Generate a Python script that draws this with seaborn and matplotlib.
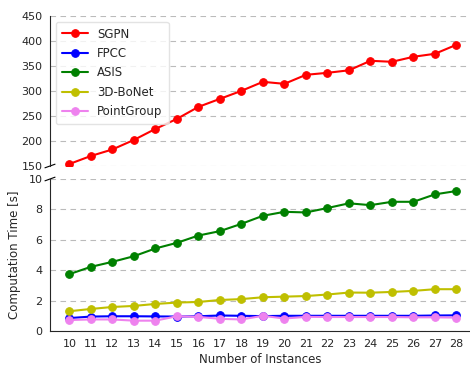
import numpy as np
import pandas as pd
import matplotlib
matplotlib.use("Agg")
import matplotlib.pyplot as plt
import seaborn as sns

instances = list(range(10, 29))
sgpn = [154, 170, 183, 202, 224, 244, 268, 284, 300, 318, 314, 332, 336, 341, 360, 358, 368, 374, 392]
fpcc = [0.85, 0.95, 0.97, 0.97, 0.96, 0.95, 0.97, 1.02, 1.0, 0.98, 1.0, 1.0, 1.0, 1.0, 1.0, 1.0, 1.0, 1.02, 1.03]
asis = [3.74, 4.22, 4.55, 4.92, 5.43, 5.8, 6.28, 6.57, 7.05, 7.58, 7.84, 7.8, 8.09, 8.4, 8.28, 8.5, 8.5, 8.99, 9.21]
bonet = [1.3, 1.45, 1.58, 1.65, 1.78, 1.87, 1.91, 2.04, 2.1, 2.22, 2.26, 2.3, 2.4, 2.53, 2.52, 2.57, 2.64, 2.75, 2.75]
pointgroup = [0.72, 0.76, 0.76, 0.68, 0.68, 0.97, 0.93, 0.8, 0.76, 1.0, 0.82, 0.93, 0.92, 0.92, 0.92, 0.92, 0.9, 0.9, 0.88]

methods = ["SGPN", "FPCC", "ASIS", "3D-BoNet", "PointGroup"]
colors = ["red", "blue", "green", "#bfbf00", "violet"]
series = [sgpn, fpcc, asis, bonet, pointgroup]

df = pd.DataFrame({
    "Number of Instances": np.tile(instances, len(methods)),
    "Computation Time [s]": np.concatenate(series),
    "Method": np.repeat(methods, len(instances)),
})

sns.set_style("white")
plt.rcParams["font.family"] = ["DejaVu Sans"]
plt.rcParams["font.size"] = 8

fig = plt.figure(figsize=(4.7, 3.69), dpi=100)
ax_top = fig.add_axes([50 / 470, 1 - 166 / 369, 420 / 470, (166 - 15.7) / 369])
ax_bot = fig.add_axes([50 / 470, 1 - 331 / 369, 420 / 470, (331 - 179) / 369])

palette = dict(zip(methods, colors))
for ax in (ax_top, ax_bot):
    sns.lineplot(data=df, x="Number of Instances", y="Computation Time [s]",
                 hue="Method", palette=palette, marker="o", markersize=5.5,
                 markeredgecolor=None, linewidth=1.5, ax=ax, legend=(ax is ax_top))
    ax.set_xlim(9.1, 28.63)
    ax.yaxis.grid(True, linestyle=(0, (5, 4)), color="#bbbbbb", linewidth=0.8)
    ax.set_axisbelow(True)
    ax.spines["right"].set_visible(False)
    ax.spines["top"].set_visible(False)
    ax.tick_params(axis="both", labelsize=8, length=3.5, width=0.8, pad=2)

ax_top.set_ylim(150, 450)
ax_top.set_yticks(range(150, 451, 50))
ax_top.spines["bottom"].set_visible(False)
ax_top.tick_params(axis="x", bottom=False, labelbottom=False)
ax_top.set_xlabel("")
ax_top.set_ylabel("")

ax_bot.set_ylim(0, 10)
ax_bot.set_yticks(range(0, 11, 2))
ax_bot.set_xticks(instances)
ax_bot.set_xlabel("Number of Instances", fontsize=8.5, labelpad=3)
ax_bot.set_ylabel("Computation Time [s]", fontsize=8.5, labelpad=5)

leg = ax_top.legend(loc="upper left", fontsize=8.5, frameon=True, borderpad=0.5,
                    handlelength=2.2, labelspacing=0.55)
leg.get_frame().set_edgecolor("#dddddd")

# diagonal break marks on the left spine
d = 0.012
kw = dict(color="k", clip_on=False, linewidth=0.8)
ax_top.plot((-d, +d), (-d, +d), transform=ax_top.transAxes, **kw)
ax_bot.plot((-d, +d), (1 - d, 1 + d), transform=ax_bot.transAxes, **kw)

fig.savefig("out.png", dpi=100)
